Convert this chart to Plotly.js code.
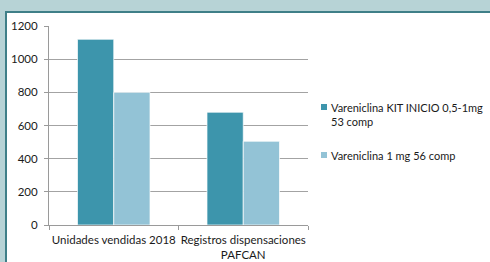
<!DOCTYPE html>
<html><head><meta charset="utf-8">
<script src="https://cdn.plot.ly/plotly-3.0.1.min.js"></script>
<style>
html,body{margin:0;padding:0;background:#b7d3d6;width:490px;height:262px;overflow:hidden;}
#box{position:absolute;left:5px;top:11px;width:500px;height:270px;background:#fff;border:2px solid #3f7f88;}
#chart{position:absolute;left:0;top:0;width:490px;height:262px;}
</style></head>
<body><div id="box"></div><div id="chart"></div>
<script>
const categories = ["Unidades vendidas 2018", "Registros dispensaciones<br>PAFCAN"];
const seriesNames = ["Vareniclina KIT INICIO 0,5-1mg<br>53 comp", "Vareniclina 1 mg 56 comp"];
const kitValues = [1120, 680];
const oneMgValues = [800, 505];
const yTicks = [0, 200, 400, 600, 800, 1000, 1200];
const colors = ["#3d95ac", "#93c3d6"];
const font = "Lato, 'Open Sans', sans-serif";

const traces = [kitValues, oneMgValues].map((vals, i) => ({
  type: "bar", x: categories, y: vals, name: seriesNames[i],
  marker: {color: colors[i], line: {color: "rgba(255,255,255,0.7)", width: 1}},
  showlegend: false, hoverinfo: "y"
}));

const legendY = [107, 155];
const shapes = [];
const annotations = [];
seriesNames.forEach((n, i) => {
  shapes.push({type: "rect", xref: "paper", yref: "paper",
    x0: (321 - 49) / 259, x1: (327 - 49) / 259,
    y0: (225 - (legendY[i] + 3)) / 199, y1: (225 - (legendY[i] - 3)) / 199,
    fillcolor: colors[i], line: {width: 0}});
  annotations.push({xref: "paper", yref: "paper", x: (329 - 49) / 259, y: (225 - (legendY[i] - 8)) / 199,
    xanchor: "left", yanchor: "top", align: "left", text: n, showarrow: false,
    font: {family: font, size: 11, color: "#1a1a1a"}});
});

const layout = {
  width: 490, height: 262,
  margin: {l: 49, r: 182, t: 26, b: 37, pad: 0},
  paper_bgcolor: "rgba(0,0,0,0)", plot_bgcolor: "rgba(0,0,0,0)",
  barmode: "group", bargap: 0.44, bargroupgap: 0,
  font: {family: font, size: 11.5, color: "#1a1a1a"},
  xaxis: {type: "category", showgrid: false, showline: true, linecolor: "#9a9a9a", linewidth: 1,
    ticks: "outside", tickson: "boundaries", ticklen: 4, tickcolor: "#9a9a9a", tickangle: 0,
    automargin: false, ticklabelstandoff: 4,
    tickfont: {family: font, size: 11.5, color: "#1a1a1a"}, fixedrange: true},
  yaxis: {range: [0, 1200], tickvals: yTicks, ticktext: yTicks.map(String),
    showgrid: true, gridcolor: "#a3a3a3", gridwidth: 1, zeroline: false, automargin: false,
    showline: true, linecolor: "#9a9a9a", ticks: "outside", ticklen: 4, tickcolor: "#9a9a9a",
    tickfont: {family: font, size: 11.5, color: "#1a1a1a"}, ticklabelstandoff: 4, fixedrange: true},
  shapes: shapes, annotations: annotations
};
Plotly.newPlot("chart", traces, layout, {staticPlot: true, displayModeBar: false});
</script></body></html>
